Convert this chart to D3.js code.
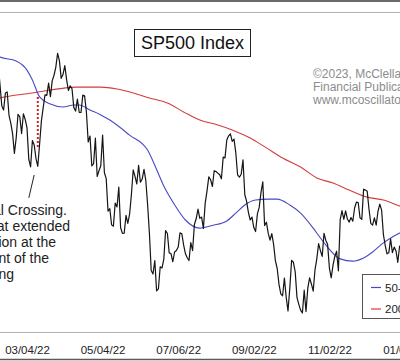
<!DOCTYPE html>
<html><head><meta charset="utf-8">
<script src="https://cdn.jsdelivr.net/npm/d3@7"></script>
<style>html,body{margin:0;padding:0;background:#fff;}svg{display:block;font-family:"Liberation Sans",Arial,sans-serif;}</style>
</head><body>
<svg id="c" width="400" height="361"></svg>
<script>
// ---- data ----
const dates = [
"02/07/22","02/08/22","02/09/22","02/10/22","02/11/22","02/14/22","02/15/22","02/16/22","02/17/22","02/18/22","02/22/22","02/23/22","02/24/22","02/25/22","02/28/22",
"03/01/22","03/02/22","03/03/22","03/04/22","03/07/22","03/08/22","03/09/22","03/10/22","03/11/22","03/14/22","03/15/22","03/16/22","03/17/22","03/18/22","03/21/22","03/22/22","03/23/22","03/24/22","03/25/22","03/28/22","03/29/22","03/30/22","03/31/22",
"04/01/22","04/04/22","04/05/22","04/06/22","04/07/22","04/08/22","04/11/22","04/12/22","04/13/22","04/14/22","04/18/22","04/19/22","04/20/22","04/21/22","04/22/22","04/25/22","04/26/22","04/27/22","04/28/22","04/29/22",
"05/02/22","05/03/22","05/04/22","05/05/22","05/06/22","05/09/22","05/10/22","05/11/22","05/12/22","05/13/22","05/16/22","05/17/22","05/18/22","05/19/22","05/20/22","05/23/22","05/24/22","05/25/22","05/26/22","05/27/22","05/31/22",
"06/01/22","06/02/22","06/03/22","06/06/22","06/07/22","06/08/22","06/09/22","06/10/22","06/13/22","06/14/22","06/15/22","06/16/22","06/17/22","06/21/22","06/22/22","06/23/22","06/24/22","06/27/22","06/28/22","06/29/22","06/30/22",
"07/01/22","07/05/22","07/06/22","07/07/22","07/08/22","07/11/22","07/12/22","07/13/22","07/14/22","07/15/22","07/18/22","07/19/22","07/20/22","07/21/22","07/22/22","07/25/22","07/26/22","07/27/22","07/28/22","07/29/22",
"08/01/22","08/02/22","08/03/22","08/04/22","08/05/22","08/08/22","08/09/22","08/10/22","08/11/22","08/12/22","08/15/22","08/16/22","08/17/22","08/18/22","08/19/22","08/22/22","08/23/22","08/24/22","08/25/22","08/26/22","08/29/22","08/30/22","08/31/22",
"09/01/22","09/02/22","09/06/22","09/07/22","09/08/22","09/09/22","09/12/22","09/13/22","09/14/22","09/15/22","09/16/22","09/19/22","09/20/22","09/21/22","09/22/22","09/23/22","09/26/22","09/27/22","09/28/22","09/29/22","09/30/22",
"10/03/22","10/04/22","10/05/22","10/06/22","10/07/22","10/10/22","10/11/22","10/12/22","10/13/22","10/14/22","10/17/22","10/18/22","10/19/22","10/20/22","10/21/22","10/24/22","10/25/22","10/26/22","10/27/22","10/28/22","10/31/22",
"11/01/22","11/02/22","11/03/22","11/04/22","11/07/22","11/08/22","11/09/22","11/10/22","11/11/22","11/14/22","11/15/22","11/16/22","11/17/22","11/18/22","11/21/22","11/22/22","11/23/22","11/25/22","11/28/22","11/29/22","11/30/22",
"12/01/22","12/02/22","12/05/22","12/06/22","12/07/22","12/08/22","12/09/22","12/12/22","12/13/22","12/14/22","12/15/22","12/16/22","12/19/22","12/20/22","12/21/22","12/22/22","12/23/22","12/27/22","12/28/22","12/29/22","12/30/22",
"01/03/23","01/04/23","01/05/23","01/06/23"
];
const closes = [
4483.87,4521.54,4587.18,4504.08,4418.64,4401.67,4471.07,4475.01,4380.26,4348.87,4304.76,4225.50,4288.70,4384.65,4373.94,
4306.26,4386.54,4363.49,4328.87,4201.09,4170.70,4277.88,4259.52,4204.31,4173.11,4262.45,4357.86,4411.67,4463.12,4461.18,4511.61,4456.24,4520.16,4543.06,4575.52,4631.60,4602.45,4530.41,
4545.86,4582.64,4525.12,4481.15,4500.21,4488.28,4412.53,4397.45,4446.59,4392.59,4391.69,4462.21,4459.45,4393.66,4271.78,4296.12,4175.20,4183.96,4287.50,4131.93,
4155.38,4175.48,4300.17,4146.87,4123.34,3991.24,4001.05,3935.18,3930.08,4023.89,4008.01,4088.85,3923.68,3900.79,3901.36,3973.75,3941.48,3978.73,4057.84,4158.24,4132.15,
4101.23,4176.82,4108.54,4121.43,4160.68,4115.77,4017.82,3900.86,3749.63,3735.48,3789.99,3666.77,3674.84,3764.79,3759.89,3795.73,3911.74,3900.11,3821.55,3818.83,3785.38,
3825.33,3831.39,3845.08,3902.62,3899.38,3854.43,3818.80,3801.78,3790.38,3863.16,3830.85,3936.69,3959.90,3998.95,3961.63,3966.84,3921.05,4023.61,4072.43,4130.29,
4118.63,4091.19,4155.17,4151.94,4145.19,4140.06,4122.47,4210.24,4207.27,4280.15,4297.14,4305.20,4274.04,4283.74,4228.48,4137.99,4128.73,4140.77,4199.12,4057.66,4030.61,3986.16,3955.00,
3966.85,3924.26,3908.19,3979.87,4006.18,4067.36,4110.41,3932.69,3946.01,3901.35,3873.33,3899.89,3855.93,3789.93,3757.99,3693.23,3655.04,3647.29,3719.04,3640.47,3585.62,
3678.43,3790.93,3783.28,3744.52,3639.66,3612.39,3588.84,3577.03,3669.91,3583.07,3677.95,3719.98,3695.16,3665.78,3752.75,3797.34,3859.11,3830.60,3807.30,3901.06,3871.98,
3856.10,3759.69,3719.89,3770.55,3806.80,3828.11,3748.57,3956.37,3992.93,3957.25,3991.73,3958.79,3946.56,3965.34,3949.94,4003.58,4027.26,4026.12,3963.94,3957.63,4080.11,
4076.57,4071.70,3998.84,3941.26,3933.92,3963.51,3934.38,3990.56,4019.65,3995.32,3895.75,3852.36,3817.66,3821.62,3878.44,3822.39,3844.82,3829.25,3783.22,3849.28,3839.50,
3824.14,3852.97,3808.10,3895.08
];
const tickLabels = ["03/04/22","05/04/22","07/06/22","09/02/22","11/02/22","01/04/23"];
const ma50 = [
["02/09/22",4622],["02/10/22",4617],["02/24/22",4601],["03/04/22",4564],["03/09/22",4524],["03/15/22",4455],
["03/23/22",4426],["04/01/22",4414],["04/11/22",4422],["04/14/22",4422],["04/25/22",4402],["05/03/22",4382],
["05/10/22",4361],["05/25/22",4300],["06/09/22",4239],["06/16/22",4160],["06/23/22",4093],["07/01/22",4017],
["07/12/22",3955],["07/22/22",3922],["08/02/22",3933],["08/12/22",3951],["08/19/22",3983],["08/26/22",4016],
["09/06/22",4036],["09/15/22",4040],["09/22/22",4040],["10/03/22",4016],["10/11/22",3983],["10/20/22",3922],
["10/26/22",3882],["11/01/22",3845],["11/10/22",3797],["11/21/22",3788],["11/30/22",3801],["12/07/22",3825],
["12/15/22",3862],["12/22/22",3886],["12/29/22",3902],["01/04/23",3915]
];
const ma200 = [
["02/09/22",4449],["02/10/22",4451],["03/09/22",4471],["03/23/22",4483],["04/12/22",4495],["05/03/22",4495],
["05/16/22",4487],["05/27/22",4471],["06/10/22",4451],["06/27/22",4430],["07/11/22",4394],["07/22/22",4361],
["08/05/22",4341],["08/17/22",4321],["08/31/22",4288],["09/14/22",4248],["09/27/22",4207],["10/11/22",4170],
["10/24/22",4126],["11/04/22",4105],["11/17/22",4077],["12/02/22",4048],["12/15/22",4036],["12/29/22",4012],["01/04/23",4004]
];
const legendLabels = ["50-day MA","200-day MA"];
const titleText = "SP500 Index";
const creditLines = ["\u00A92023, McClellan","Financial Publications","www.mcoscillator.com"];
const noteLines = ["Signal Crossing.","that extended","duration at the","point of the","crossing"];
const crossDate = "03/14/22", crossTop = 4455, crossBottom = 4250;
const notePointer = [["03/10/22",4138],["03/07/22",4045]];

// ---- chart ----
const W = 400, H = 361, plotTop = 12, plotBottom = 332;
const svg = d3.select("#c");
const idx = d => dates.indexOf(d);
const x = d3.scaleLinear().domain([idx("03/04/22"), idx("01/04/23")]).range([27, 405]);
const y = d3.scaleLinear().domain([3500, 4800]).range([plotBottom, plotTop]);

svg.append("rect").attr("width", W).attr("height", H).attr("fill", "#fff");
svg.append("defs").append("clipPath").attr("id", "clip")
  .append("rect").attr("x", 0).attr("y", plotTop).attr("width", W).attr("height", plotBottom - plotTop);

// frame lines
svg.append("line").attr("x1", 0).attr("x2", W).attr("y1", 1).attr("y2", 1).attr("stroke", "#6a6a6a").attr("stroke-width", 2);
svg.append("line").attr("x1", 0).attr("x2", W).attr("y1", plotTop + 0.5).attr("y2", plotTop + 0.5).attr("stroke", "#b0b0b0");
svg.append("line").attr("x1", 0).attr("x2", W).attr("y1", plotBottom + 0.5).attr("y2", plotBottom + 0.5).attr("stroke", "#b0b0b0");
svg.append("line").attr("x1", 0).attr("x2", W).attr("y1", 359.5).attr("y2", 359.5).attr("stroke", "#5a5a5a").attr("stroke-width", 1.5);

const g = svg.append("g").attr("clip-path", "url(#clip)");

const maLine = d3.line().x(d => x(idx(d[0]))).y(d => y(d[1])).curve(d3.curveMonotoneX);
g.append("path").datum(ma200).attr("d", maLine).attr("fill", "none").attr("stroke", "#d23c3c").attr("stroke-width", 1.1);
g.append("path").datum(ma50).attr("d", maLine).attr("fill", "none").attr("stroke", "#4848c4").attr("stroke-width", 1.1);

const priceLine = d3.line().x((d, i) => x(i)).y(d => y(d));
g.append("path").datum(closes).attr("d", priceLine).attr("fill", "none").attr("stroke", "#151515").attr("stroke-width", 1.2).attr("stroke-linejoin", "round");

// red dotted marker at the crossing
g.append("line")
  .attr("x1", x(idx(crossDate))).attr("x2", x(idx(crossDate)))
  .attr("y1", y(crossTop)).attr("y2", y(crossBottom))
  .attr("stroke", "#d21e1e").attr("stroke-width", 2).attr("stroke-dasharray", "2,2");

// pointer line
g.append("line")
  .attr("x1", x(idx(notePointer[0][0]))).attr("y1", y(notePointer[0][1]))
  .attr("x2", x(idx(notePointer[1][0]))).attr("y2", y(notePointer[1][1]))
  .attr("stroke", "#222").attr("stroke-width", 1);

// note text (cut off on the left)
const noteEnds = [67, 70, 56, 49, 14];
noteLines.forEach((t, i) => {
  svg.append("text").attr("x", noteEnds[i]).attr("y", 215 + i * 16)
    .attr("text-anchor", "end").attr("font-size", 14).attr("fill", "#222").text(t);
});

// title box
svg.append("rect").attr("x", 134.5).attr("y", 29.5).attr("width", 116).attr("height", 27)
  .attr("fill", "#fff").attr("stroke", "#222");
svg.append("text").attr("x", 192.5).attr("y", 48.5).attr("text-anchor", "middle")
  .attr("font-size", 18).attr("fill", "#111").text(titleText);

// credits
creditLines.forEach((t, i) => {
  svg.append("text").attr("x", 313).attr("y", 78 + i * 13)
    .attr("font-size", 12).attr("fill", "#8c8c8c").text(t);
});

// legend
const lg = svg.append("g");
lg.append("rect").attr("x", 362.5).attr("y", 274.5).attr("width", 60).attr("height", 44)
  .attr("fill", "#fff").attr("stroke", "#555");
const legColors = ["#4848c4", "#d23c3c"];
legendLabels.forEach((t, i) => {
  const yy = 287.5 + i * 21.5;
  lg.append("line").attr("x1", 371).attr("x2", 381).attr("y1", yy).attr("y2", yy).attr("stroke", legColors[i]).attr("stroke-width", 1.2);
  lg.append("text").attr("x", 385).attr("y", yy + 4).attr("font-size", 11.5).attr("fill", "#222").text(t);
});

// x axis
const axis = d3.axisBottom(x).tickValues(tickLabels.map(idx)).tickFormat((d, i) => tickLabels[i]).tickSize(0).tickPadding(13.5);
const ax = svg.append("g").attr("transform", `translate(0,${plotBottom})`).call(axis);
ax.select(".domain").remove();
ax.selectAll("text").attr("font-size", 11.5).attr("fill", "#222").attr("font-family", '"Liberation Sans",Arial,sans-serif');
</script>
</body></html>
